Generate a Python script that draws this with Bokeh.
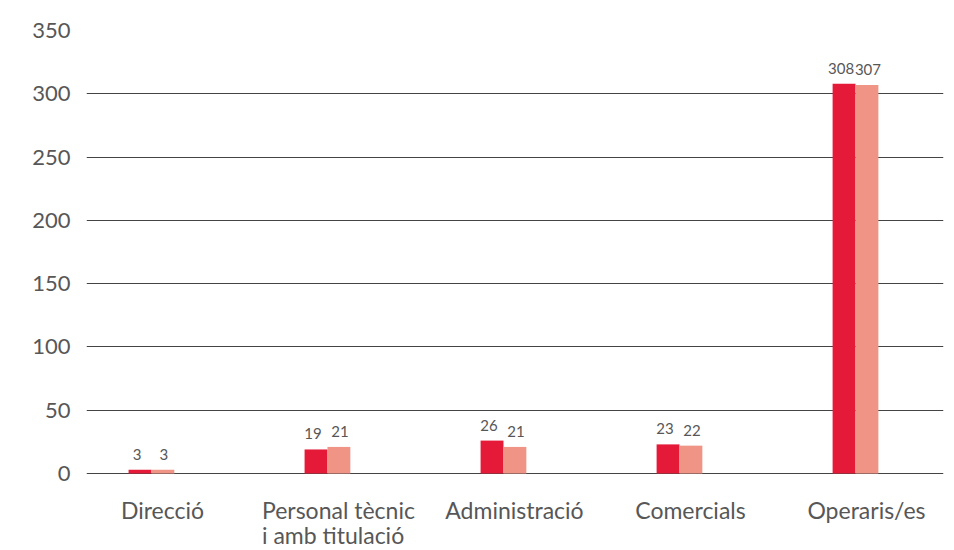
from bokeh.plotting import figure
from bokeh.models import Range1d, FixedTicker, ColumnDataSource, LabelSet
from bokeh.core.properties import value
from bokeh.embed import file_html
from bokeh.resources import INLINE

categories = ["Direcció", "Personal tècnic\ni amb titulació", "Administració", "Comercials", "Operaris/es"]
series_a = [3, 19, 26, 23, 308]
series_b = [3, 21, 21, 22, 307]
y_ticks = [0, 50, 100, 150, 200, 250, 300, 350]

RED = "#E41A38"
SALMON = "#F09486"
TXT = "#575757"
FONT = "Lato"

n = len(categories)
xs = list(range(n))
bw = 0.13

# frame runs to the bottom of the canvas; the band below 0 holds the category labels
Y_TOP = 350
Y_BOTTOM = -Y_TOP * 77 / 443

p = figure(width=954, height=550, output_backend="svg", toolbar_location=None,
           x_range=Range1d(-0.369, 4.5), y_range=Range1d(Y_BOTTOM, Y_TOP),
           min_border_left=86, min_border_right=11, min_border_top=30, min_border_bottom=0)
p.outline_line_color = None

src_a = ColumnDataSource(dict(x=[x - bw / 2 for x in xs], top=series_a, lab=[str(v) for v in series_a]))
src_b = ColumnDataSource(dict(x=[x + bw / 2 for x in xs], top=series_b, lab=[str(v) for v in series_b]))
p.vbar(x="x", top="top", width=bw, source=src_a, color=RED, line_color=None)
p.vbar(x="x", top="top", width=bw, source=src_b, color=SALMON, line_color=None)

for s, dx in ((src_a, -3), (src_b, 1)):
    p.add_layout(LabelSet(x="x", y="top", text="lab", source=s, y_offset=10, x_offset=dx,
                          text_align="center", text_baseline="bottom",
                          text_font=value(FONT), text_font_size="15px", text_color=TXT))

# y axis
p.yaxis.ticker = FixedTicker(ticks=y_ticks)
p.yaxis.axis_line_color = None
p.yaxis.major_tick_line_color = None
p.yaxis.minor_tick_line_color = None
p.yaxis.major_tick_out = 0
p.yaxis.major_label_standoff = 16
p.yaxis.major_label_text_font = FONT
p.yaxis.major_label_text_font_size = "22px"
p.yaxis.major_label_text_color = TXT

p.xaxis.visible = False

# category labels below the zero line
off = 11 / 176
cat_src = ColumnDataSource(dict(x=[x + off for x in xs], y=[0] * n, lab=categories))
p.add_layout(LabelSet(x="x", y="y", text="lab", source=cat_src, y_offset=-22,
                      text_align="center", text_baseline="top", text_line_height=0.92,
                      text_font=value(FONT), text_font_size="23px", text_color=TXT))

p.xgrid.grid_line_color = None
p.ygrid.ticker = FixedTicker(ticks=y_ticks)
p.ygrid.grid_line_color = "#444444"
p.ygrid.grid_line_width = 1

open("out.html", "w").write(file_html(p, INLINE))
